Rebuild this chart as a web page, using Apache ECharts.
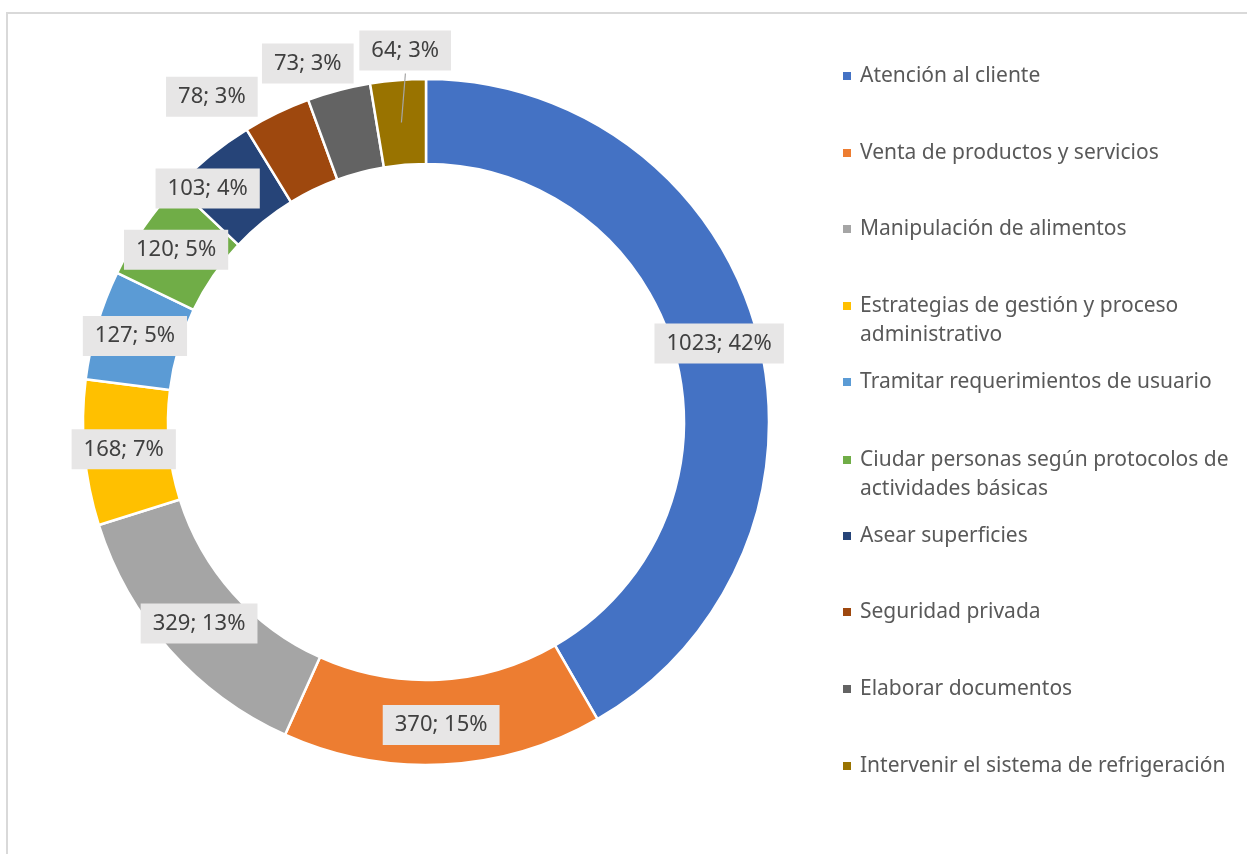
<!DOCTYPE html>
<html>
<head>
<meta charset="utf-8">
<script src="https://cdn.jsdelivr.net/npm/echarts@6/dist/echarts.min.js"></script>
<style>
  html, body { margin: 0; padding: 0; background: #fff; }
  #chart { width: 1247px; height: 854px; }
</style>
</head>
<body>
<div id="chart"></div>
<script>
const categorias = [
  "Atención al cliente",
  "Venta de productos y servicios",
  "Manipulación de alimentos",
  "Estrategias de gestión y proceso administrativo",
  "Tramitar requerimientos de usuario",
  "Ciudar personas según protocolos de actividades básicas",
  "Asear superficies",
  "Seguridad privada",
  "Elaborar documentos",
  "Intervenir el sistema de refrigeración",
];
const valores = [1023, 370, 329, 168, 127, 120, 103, 78, 73, 64];
const colores = ["#4472C4", "#ED7D31", "#A5A5A5", "#FFC000", "#5B9BD5",
  "#70AD47", "#264478", "#9E480E", "#636363", "#997300"];

// legend text broken on two lines like the original
// (blank first line keeps the marker next to the first real line)
const saltos = {
  "Estrategias de gestión y proceso administrativo": "\nEstrategias de gestión y proceso\nadministrativo",
  "Ciudar personas según protocolos de actividades básicas": "\nCiudar personas según protocolos de\nactividades básicas",
};

const fuente = "Noto Sans";
const centro = [426, 422];
const radios = [258, 343];
// labels that Excel pushed away from the ring
const desplaz = { 6: [-27, 2], 7: [-82, -52], 8: [-41, -65], 9: [4, -69] };
const legendTop = [76, 153, 229, 306, 382, 460, 536, 612, 689, 766];
const altoLinea = 29;

var chart = echarts.init(document.getElementById("chart"));

// leader line for the last slice
const total = valores.reduce((a, b) => a + b, 0);
const antes = total - valores[9];
const ang = ((antes + valores[9] / 2) / total) * Math.PI * 2;
const rMed = (radios[0] + radios[1]) / 2;
const px = centro[0] + rMed * Math.sin(ang);
const py = centro[1] - rMed * Math.cos(ang);

const leyendas = categorias.map((name, i) => ({
  data: [name],
  left: 841,
  top: legendTop[i] - (saltos[name] ? altoLinea * 1.5 : altoLinea / 2),
  padding: 0,
  itemWidth: 10,
  itemHeight: 10,
  icon: "rect",
  selectedMode: false,
  formatter: (n) => saltos[n] || n,
  textStyle: {
    fontFamily: fuente,
    fontSize: 21,
    color: "#595959",
    lineHeight: altoLinea,
    padding: [0, 0, 0, 3],
  },
}));

var option = {
  animation: false,
  color: colores,
  legend: leyendas,
  graphic: [
    {
      type: "rect",
      z: -1,
      shape: { x: 7, y: 13, width: 1400, height: 1000 },
      style: { fill: "none", stroke: "#d9d9d9", lineWidth: 2 },
    },
    {
      type: "line",
      z: 10,
      shape: { x1: px, y1: py, x2: px + desplaz[9][0], y2: py + desplaz[9][1] + 20 },
      style: { stroke: "#a6a6a6", lineWidth: 1.2 },
    },
  ],
  series: [
    {
      type: "pie",
      center: centro,
      radius: radios,
      startAngle: 90,
      clockwise: true,
      avoidLabelOverlap: false,
      itemStyle: { borderColor: "#fff", borderWidth: 2.5 },
      label: {
        show: true,
        position: "inside",
        formatter: (p) => p.value + "; " + Math.round(p.percent) + "%",
        fontFamily: fuente,
        fontSize: 22,
        color: "#404040",
        backgroundColor: "#e7e6e6",
        lineHeight: 30,
        padding: [5, 12],
      },
      labelLine: { show: false },
      labelLayout: function (p) {
        const s = desplaz[p.dataIndex];
        return s ? { dx: s[0], dy: s[1] } : {};
      },
      data: categorias.map((n, i) => ({ name: n, value: valores[i] })),
    },
  ],
};

chart.setOption(option);
</script>
</body>
</html>
